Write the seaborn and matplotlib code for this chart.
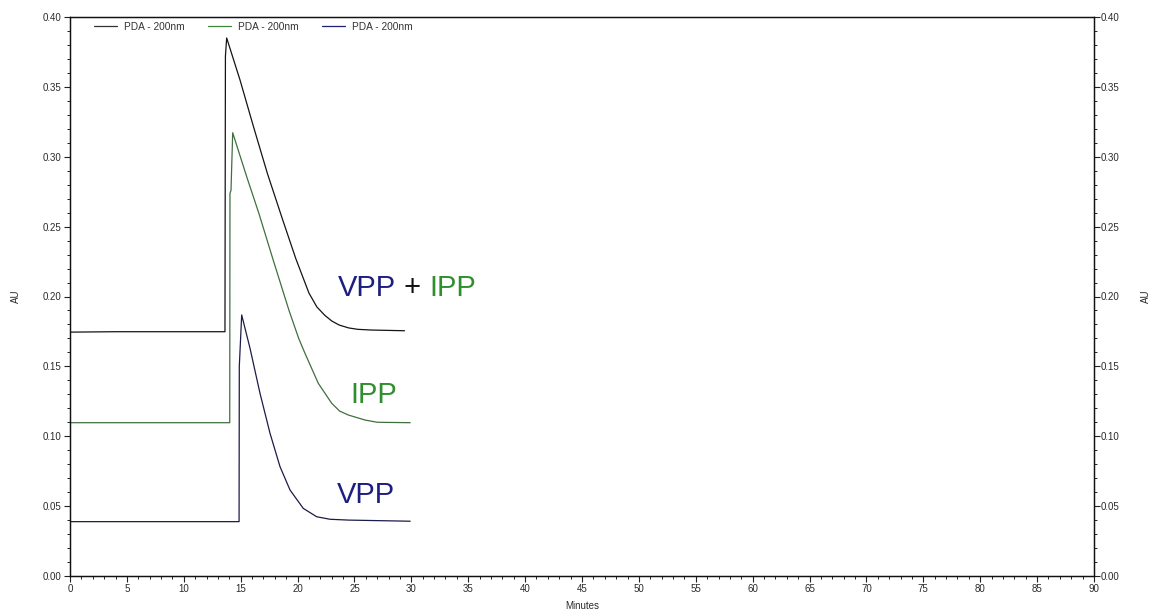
import numpy as np
import pandas as pd
import matplotlib
matplotlib.use("Agg")
import matplotlib.pyplot as plt
from matplotlib.ticker import MultipleLocator, AutoMinorLocator, FormatStrFormatter
from matplotlib.lines import Line2D
import seaborn as sns

# ---- data ----
mix_t = [0.0, 4.0, 13.62, 13.66, 13.77, 14.94, 16.11, 17.35, 18.7, 19.85, 21.0, 21.7, 22.4, 23.0, 23.65, 24.5, 25.3, 26.5, 29.4]
mix_v = [0.1745, 0.1748, 0.1748, 0.372, 0.385, 0.355, 0.322, 0.288, 0.2547, 0.227, 0.2025, 0.1925, 0.1865, 0.1825, 0.1796, 0.1775, 0.1765, 0.1760, 0.1755]

ipp_t = [0.0, 14.04, 14.06, 14.15, 14.30, 15.53, 16.6, 17.9, 19.25, 20.1, 20.65, 21.82, 23.0, 23.7, 24.46, 25.93, 27.0, 29.9]
ipp_v = [0.1097, 0.1097, 0.2738, 0.2760, 0.3172, 0.2857, 0.2595, 0.225, 0.190, 0.170, 0.1594, 0.1379, 0.1236, 0.118, 0.1152, 0.1116, 0.1100, 0.1097]

vpp_t = [0.0, 14.86, 14.88, 15.09, 15.82, 16.70, 17.58, 18.46, 19.34, 20.5, 21.68, 22.85, 24.5, 29.9]
vpp_v = [0.0389, 0.0389, 0.150, 0.1868, 0.163, 0.1307, 0.1021, 0.0782, 0.0615, 0.0484, 0.0424, 0.0406, 0.0400, 0.0392]

legend_labels = ["PDA - 200nm", "PDA - 200nm", "PDA - 200nm"]
x_label = "Minutes"
y_label = "AU"

sns.set_theme(style="ticks")
plt.rcParams['font.family'] = ['Liberation Sans', 'DejaVu Sans']

fig = plt.figure(figsize=(11.54, 6.11), dpi=100)
ax = fig.add_axes([70/1154, 35/611, (1094-70)/1154, (576-17)/611])

c_mix = "#141414"
c_ipp = "#3f6f3f"
c_vpp = "#1c1c48"

df_mix = pd.DataFrame({"t": mix_t, "v": mix_v})
df_ipp = pd.DataFrame({"t": ipp_t, "v": ipp_v})
df_vpp = pd.DataFrame({"t": vpp_t, "v": vpp_v})

sns.lineplot(data=df_mix, x="t", y="v", ax=ax, color=c_mix, lw=0.9, sort=False, estimator=None)
sns.lineplot(data=df_ipp, x="t", y="v", ax=ax, color=c_ipp, lw=0.9, sort=False, estimator=None)
sns.lineplot(data=df_vpp, x="t", y="v", ax=ax, color=c_vpp, lw=0.9, sort=False, estimator=None)

ax.set_xlim(0, 90)
ax.set_ylim(0, 0.40)
ax.xaxis.set_major_locator(MultipleLocator(5))
ax.xaxis.set_minor_locator(AutoMinorLocator(5))
ax.yaxis.set_major_locator(MultipleLocator(0.05))
ax.yaxis.set_minor_locator(AutoMinorLocator(5))
ax.yaxis.set_major_formatter(FormatStrFormatter('%.2f'))

tick_col = "#2a2a2a"
ax.tick_params(which="major", length=4, width=0.8, color="#222222", labelsize=7, labelcolor=tick_col, pad=2)
ax.tick_params(which="minor", length=2.5, width=0.7, color="#222222")
for s in ax.spines.values():
    s.set_color("#111111")
    s.set_linewidth(0.9)

ax.set_xlabel(x_label, fontsize=7, color=tick_col)
ax.xaxis.set_label_coords(0.5, -0.045)
ax.set_ylabel(y_label, fontsize=7, color=tick_col, labelpad=16)

ax2 = ax.twinx()
ax2.set_ylim(0, 0.40)
ax2.yaxis.set_major_locator(MultipleLocator(0.05))
ax2.yaxis.set_minor_locator(AutoMinorLocator(5))
ax2.yaxis.set_major_formatter(FormatStrFormatter('%.2f'))
ax2.tick_params(which="major", length=4, width=0.8, color="#222222", labelsize=7, labelcolor=tick_col, pad=1)
ax2.tick_params(which="minor", length=2.5, width=0.7, color="#222222")
ax2.set_ylabel(y_label, fontsize=7, color=tick_col, labelpad=15, rotation=90)
for s in ax2.spines.values():
    s.set_color("#111111")
    s.set_linewidth(0.9)

# annotations
blue_txt = "#1e1e7e"
green_txt = "#2f8f2f"
t1 = ax.text(23.58, 0.2004, "VPP", color=blue_txt, fontsize=21, ha="left", va="baseline")
t2 = ax.annotate(" + ", xy=(1, 0), xycoords=t1, color="#111111", fontsize=21, va="bottom")
t3 = ax.annotate("IPP", xy=(1, 0), xycoords=t2, color=green_txt, fontsize=21, va="bottom")
ax.text(24.61, 0.1236, "IPP", color=green_txt, fontsize=21, ha="left", va="baseline")
ax.text(23.44, 0.052, "VPP", color=blue_txt, fontsize=21, ha="left", va="baseline")

handles = [Line2D([0], [0], color="#333333", lw=0.9),
           Line2D([0], [0], color="#3a8a3a", lw=0.9),
           Line2D([0], [0], color="#1f1f7a", lw=0.9)]
ax.legend(handles, legend_labels, ncol=3, loc="upper left", bbox_to_anchor=(24/1024, 1 - 5/559),
          frameon=False, fontsize=7.3, handlelength=2.27, columnspacing=2.3, handletextpad=0.7,
          borderpad=0, borderaxespad=0, labelcolor="#333333")

fig.savefig("out.png", dpi=100)
